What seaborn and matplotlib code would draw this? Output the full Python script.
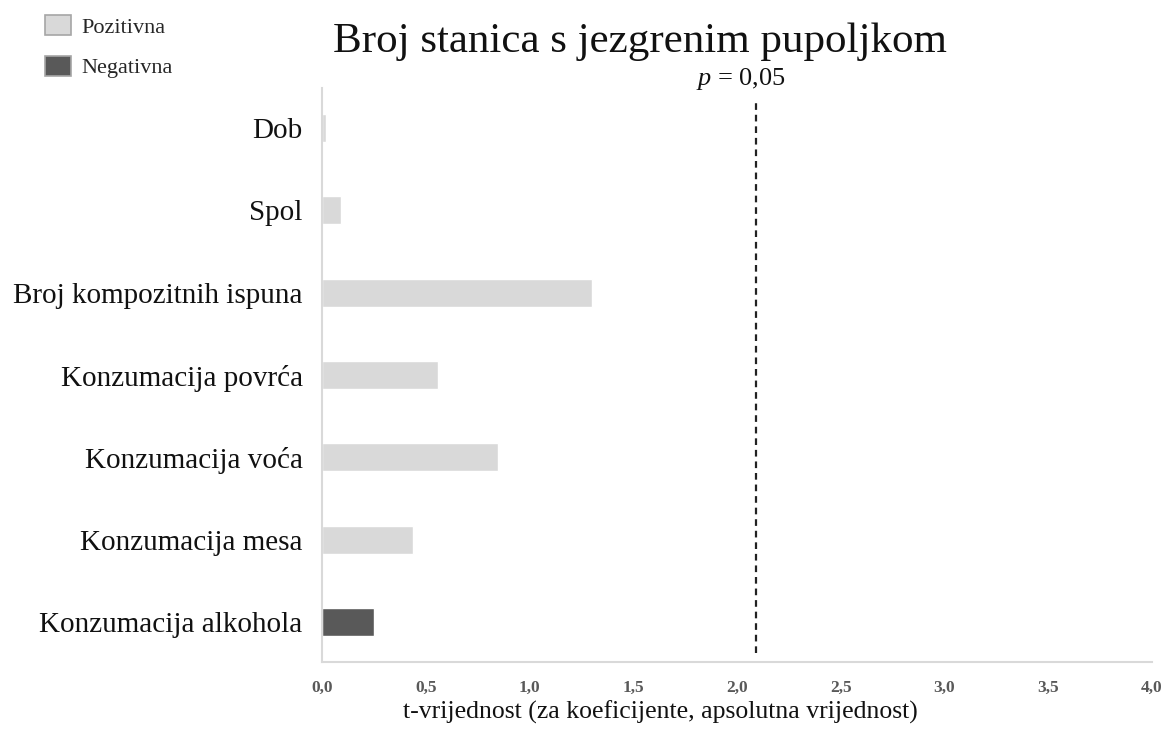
import pandas as pd
import matplotlib.pyplot as plt
import seaborn as sns
from matplotlib.patches import Patch

# values
categories = ["Dob", "Spol", "Broj kompozitnih ispuna", "Konzumacija povrća",
              "Konzumacija voća", "Konzumacija mesa", "Konzumacija alkohola"]
t_values = [0.02, 0.09, 1.30, 0.56, 0.85, 0.44, 0.25]
signs = ["Pozitivna", "Pozitivna", "Pozitivna", "Pozitivna",
         "Pozitivna", "Pozitivna", "Negativna"]
p_crit = 2.09
x_ticks = [0.0, 0.5, 1.0, 1.5, 2.0, 2.5, 3.0, 3.5, 4.0]

data = pd.DataFrame({"Varijabla": categories, "t": t_values, "Smjer": signs})
palette = {"Pozitivna": "#d9d9d9", "Negativna": "#595959"}

sns.set_theme(style="white")
plt.rcParams['font.family'] = ['Liberation Serif', 'DejaVu Serif']
plt.rcParams['mathtext.fontset'] = 'custom'
plt.rcParams['mathtext.it'] = 'Liberation Serif:italic'
plt.rcParams['mathtext.rm'] = 'Liberation Serif'

fig = plt.figure(figsize=(11.67, 7.31), dpi=100)
ax = fig.add_axes([0.276, 0.094, 0.711, 0.786])

sns.barplot(data=data, x="t", y="Varijabla", hue="Smjer", palette=palette,
            orient="h", dodge=False, width=0.34, legend=False, ax=ax,
            order=categories)

ax.axvline(p_crit, ymin=0.017, ymax=0.98, color="#222222",
           linestyle=(0, (3, 2.2)), linewidth=1.6)
ax.text(p_crit - 0.07, -0.43, r"$p$ = 0,05", ha="center", va="bottom",
        fontsize=19, color="#111111")

ax.set_xlim(0, 4.0)
ax.set_ylim(len(categories) - 0.514, -0.486)
ax.set_xticks(x_ticks)
ax.set_xticklabels([f"{v:.1f}".replace(".", ",") for v in x_ticks],
                   fontsize=12.5, fontweight="bold", color="#595959")
ax.tick_params(axis="x", pad=13, length=0)
ax.tick_params(axis="y", labelsize=21, length=0, pad=14, labelcolor="#111111")
ax.set_ylabel("")
ax.set_xlabel("")

for side in ["top", "right"]:
    ax.spines[side].set_visible(False)
for side in ["left", "bottom"]:
    ax.spines[side].set_color("#d9d9d9")
    ax.spines[side].set_linewidth(1.5)

fig.text(0.566, 0.026, "t-vrijednost (za koeficijente, apsolutna vrijednost)",
         ha="center", va="center", fontsize=18.5, color="#111111")
fig.text(0.548, 0.943, "Broj stanica s jezgrenim pupoljkom", ha="center",
         va="center", fontsize=31, color="#111111")

handles = [Patch(facecolor=palette["Pozitivna"], edgecolor="#a6a6a6", linewidth=1.2),
           Patch(facecolor=palette["Negativna"], edgecolor="#a6a6a6", linewidth=1.2)]
fig.legend(handles, ["Pozitivna", "Negativna"], loc="upper left",
           bbox_to_anchor=(0.021, 1.007), frameon=False, fontsize=16,
           handlelength=1.2, handleheight=1.05, labelspacing=0.8,
           handletextpad=0.45)

fig.savefig("out.png", dpi=100)
